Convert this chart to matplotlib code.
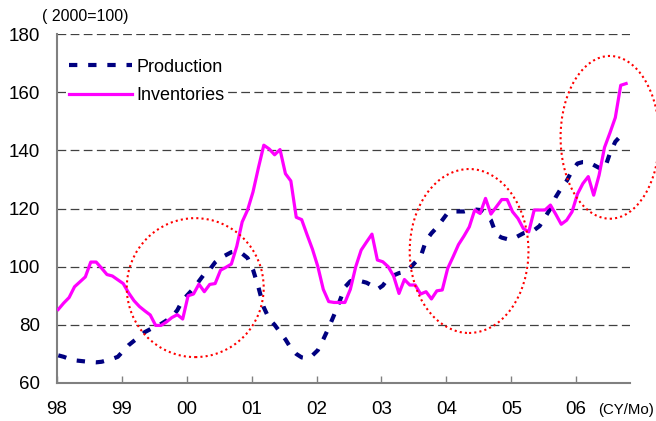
import matplotlib
matplotlib.use("Agg")
import matplotlib.pyplot as plt
from matplotlib.patches import Ellipse
import numpy as np

plt.rcParams['font.family'] = ['Liberation Sans', 'DejaVu Sans']

# Monthly index values, Jan 1998 .. Oct 2006 (2000=100)
production = [
    69.5, 69.0, 68.3, 67.8, 67.6, 67.4, 67.2, 67.1, 67.3, 67.8, 68.3, 69.0,   # 1998
    71.0, 73.0, 74.5, 75.9, 77.5, 78.5, 79.5, 80.3, 81.5, 82.8, 85.0, 88.5,   # 1999
    90.5, 92.5, 95.0, 97.5, 99.0, 101.5, 103.0, 104.0, 105.0, 105.3, 104.5, 103.0,  # 2000
    99.0, 93.0, 86.0, 82.0, 80.0, 77.5, 75.0, 72.0, 70.0, 68.8, 68.5, 69.5,   # 2001
    71.3, 75.0, 79.0, 83.4, 88.0, 93.0, 95.0, 95.5, 95.0, 94.5, 93.5, 92.2,   # 2002
    93.5, 96.0, 97.0, 97.8, 98.2, 99.5, 101.5, 103.4, 109.0, 111.5, 113.5, 116.0,  # 2003
    118.5, 119.0, 119.0, 119.0, 119.5, 119.7, 119.5, 118.0, 116.0, 111.0, 110.0, 109.5,  # 2004
    109.5, 110.5, 111.5, 112.0, 112.6, 114.0, 117.0, 120.0, 124.0, 127.0, 129.5, 133.0,  # 2005
    135.5, 136.0, 136.0, 135.0, 134.0, 133.5, 139.0, 143.0, 145.0, 144.6,    # 2006
]
inventories = [
    85.3, 87.5, 89.4, 93.1, 94.8, 96.5, 101.6, 101.6, 99.5, 97.3, 96.8, 95.5,  # 1998
    94.2, 91.0, 88.3, 86.3, 84.8, 83.4, 79.8, 79.8, 81.0, 82.5, 83.5, 82.0,    # 1999
    90.0, 90.6, 94.0, 91.4, 93.9, 94.2, 98.8, 99.8, 100.9, 107.0, 115.4, 119.5,  # 2000
    125.7, 134.0, 141.8, 140.5, 138.5, 140.3, 132.0, 129.5, 117.0, 116.2, 111.0, 106.0,  # 2001
    100.0, 92.2, 88.0, 87.7, 87.7, 87.7, 92.2, 100.0, 105.7, 108.5, 111.2, 102.3,  # 2002
    101.7, 100.0, 96.8, 90.8, 95.6, 93.7, 93.7, 90.6, 91.4, 88.9, 91.7, 92.0,  # 2003
    99.4, 103.4, 107.6, 110.5, 113.7, 119.5, 118.3, 123.5, 118.1, 120.6, 123.1, 123.1,  # 2004
    118.9, 116.6, 113.1, 112.0, 119.5, 119.5, 119.5, 121.2, 118.0, 114.6, 116.0, 118.9,  # 2005
    125.0, 128.6, 131.0, 124.6, 131.5, 141.0, 146.0, 151.3, 162.4, 163.0,      # 2006
]
year_ticks = [1998, 1999, 2000, 2001, 2002, 2003, 2004, 2005, 2006]
year_labels = ["98", "99", "00", "01", "02", "03", "04", "05", "06"]
y_ticks = [60, 80, 100, 120, 140, 160, 180]

# highlighted regions: (center year, center value, width in years, height in index points)
ellipses = [
    (2000.13, 92.8, 2.11, 47.8),
    (2004.35, 105.4, 1.83, 56.4),
    (2006.52, 144.5, 1.52, 56.0),
]

x_prod = 1998 + np.arange(len(production)) / 12.0 + 0.02
x_inv = 1998 + np.arange(len(inventories)) / 12.0 + 0.02

fig = plt.figure(figsize=(6.56, 4.21), dpi=100)
ax = fig.add_axes([0.0869, 0.0903, 0.8735, 0.8286])

ax.set_xlim(1998, 2006.83)
ax.set_ylim(60, 180)

for v in y_ticks[1:]:
    ax.axhline(v, color='#404040', lw=0.9, linestyle=(0, (7, 3.5)), zorder=1)

ax.plot(x_prod, production, color='#000080', lw=3.0, linestyle=(0, (2.0, 2.6)),
        label='Production', zorder=3)
ax.plot(x_inv, inventories, color='#FF00FF', lw=2.3, label='Inventories', zorder=4)

for cx, cy, w, h in ellipses:
    e = Ellipse((cx, cy), w, h, fill=False, edgecolor='#FF0000', lw=1.5,
                linestyle=(0, (1, 1.5)), zorder=5, clip_on=False)
    ax.add_patch(e)

ax.set_xticks(year_ticks)
ax.set_xticklabels(year_labels, fontsize=13.5)
ax.set_yticks(y_ticks)
ax.set_yticklabels([str(v) for v in y_ticks], fontsize=13.5)
ax.tick_params(axis='x', direction='in', length=5, width=1, color='#808080', pad=13)
ax.tick_params(axis='y', length=0, pad=12)

for s in ['top', 'right']:
    ax.spines[s].set_visible(False)
for s in ['left', 'bottom']:
    ax.spines[s].set_color('#808080')
    ax.spines[s].set_linewidth(1.5)

leg = ax.legend(loc='upper left', bbox_to_anchor=(0.015, 0.94), frameon=True,
                facecolor='white', edgecolor='none', framealpha=1.0, fancybox=False,
                fontsize=13, handlelength=3.45, handletextpad=0.25,
                labelspacing=0.62, borderpad=0.2, borderaxespad=0)
leg.set_zorder(6)

fig.text(42 / 656, 1 - 17 / 421, "( 2000=100)", fontsize=11.5, va='center', ha='left')
fig.text(598 / 656, 1 - 410 / 421, "(CY/Mo)", fontsize=10.8, va='center', ha='left')

fig.savefig("out.png", dpi=100)
